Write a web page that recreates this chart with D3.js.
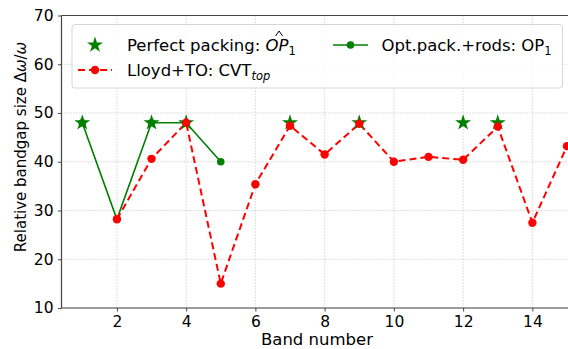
<!DOCTYPE html>
<html>
<head>
<meta charset="utf-8">
<script src="https://cdn.jsdelivr.net/npm/d3@7"></script>
<style>
  body { margin: 0; background: #fff; }
  text { font-family: "DejaVu Sans", sans-serif; fill: #000; }
</style>
</head>
<body>
<div id="chart"></div>
<script>
// data
const bands = [1, 2, 3, 4, 5, 6, 7, 8, 9, 10, 11, 12, 13, 14, 15];
const perfectBands = [1, 3, 4, 7, 9, 12, 13];
const perfectGap = [48, 48, 48, 48, 48, 48, 48];
const rodsBands = [1, 2, 3, 4, 5];
const rodsGap = [48, 28.2, 48, 48, 40];
const cvtBands = [2, 3, 4, 5, 6, 7, 8, 9, 10, 11, 12, 13, 14, 15];
const cvtGap = [28.2, 40.6, 48, 15, 35.4, 47.4, 41.5, 47.8, 40, 41, 40.4, 47.2, 27.5, 43.2];
const xTicks = [2, 4, 6, 8, 10, 12, 14];
const yTicks = [10, 20, 30, 40, 50, 60, 70];

const W = 568, H = 349;
const margin = {top: 15.5, right: 1, bottom: 41, left: 61.5};
const iw = W - margin.left - margin.right;
const ih = H - margin.top - margin.bottom;

const svg = d3.select('#chart').append('svg')
  .attr('width', W)
  .attr('height', H);

const g = svg.append('g')
  .attr('transform', 'translate(' + margin.left + ',' + margin.top + ')');

const x = d3.scaleLinear().domain([0.4, 15]).range([0, iw]);
const y = d3.scaleLinear().domain([10, 70]).range([ih, 0]);

// grid
g.append('g').selectAll('line').data(xTicks).join('line')
  .attr('x1', d => x(d)).attr('x2', d => x(d))
  .attr('y1', 0).attr('y2', ih)
  .attr('stroke', '#b0b0b0').attr('stroke-width', 0.8)
  .attr('stroke-dasharray', '1,2');
g.append('g').selectAll('line').data(yTicks).join('line')
  .attr('x1', 0).attr('x2', iw)
  .attr('y1', d => y(d)).attr('y2', d => y(d))
  .attr('stroke', '#b0b0b0').attr('stroke-width', 0.8)
  .attr('stroke-dasharray', '1,2');

// axes
const xAxis = g.append('g')
  .attr('transform', 'translate(0,' + ih + ')')
  .call(d3.axisBottom(x).tickValues(xTicks).tickSize(3.5).tickPadding(4));
const yAxis = g.append('g')
  .call(d3.axisLeft(y).tickValues(yTicks).tickSize(3.5).tickPadding(4.5));
[xAxis, yAxis].forEach(a => {
  a.select('.domain').remove();
  a.selectAll('line').attr('stroke', '#444').attr('stroke-width', 1);
  a.selectAll('text').attr('font-size', 15.5).attr('font-family', 'DejaVu Sans').attr('fill', '#000');
});
// spines: left, bottom, top
g.append('line').attr('x1', 0).attr('x2', 0).attr('y1', 0).attr('y2', ih)
  .attr('stroke', '#444').attr('stroke-width', 1.2);
g.append('line').attr('x1', 0).attr('x2', iw + margin.right).attr('y1', ih).attr('y2', ih)
  .attr('stroke', '#444').attr('stroke-width', 1.2);
g.append('line').attr('x1', 0).attr('x2', iw + margin.right).attr('y1', 0).attr('y2', 0)
  .attr('stroke', '#444').attr('stroke-width', 1.2);

// labels
svg.append('text')
  .attr('x', 317).attr('y', 345)
  .attr('text-anchor', 'middle').attr('font-size', 16.5)
  .text('Band number');
const ylab = svg.append('text')
  .attr('transform', 'translate(26,147) rotate(-90)')
  .attr('text-anchor', 'middle').attr('font-size', 15);
ylab.append('tspan').text('Relative bandgap size Δ');
ylab.append('tspan').attr('font-style', 'italic').text('ω');
ylab.append('tspan').text('/');
ylab.append('tspan').attr('font-style', 'italic').text('ω');

const plot = g.append('g');
const line = d3.line().x(d => x(d[0])).y(d => y(d[1]));

// green line: optimized packing + rods
const rods = rodsBands.map((b, i) => [b, rodsGap[i]]);
plot.append('path').datum(rods)
  .attr('d', line).attr('fill', 'none')
  .attr('stroke', 'green').attr('stroke-width', 1.6);
plot.append('g').selectAll('circle').data(rods).join('circle')
  .attr('cx', d => x(d[0])).attr('cy', d => y(d[1])).attr('r', 3.8)
  .attr('fill', 'green');

// red dashed: CVT
const cvt = cvtBands.map((b, i) => [b, cvtGap[i]]);
plot.append('path').datum(cvt)
  .attr('d', line).attr('fill', 'none')
  .attr('stroke', 'red').attr('stroke-width', 2)
  .attr('stroke-dasharray', '7,4');

// stars: perfect packing
const star = d3.symbol().type(d3.symbolStar).size(80);
const perfect = perfectBands.map((b, i) => [b, perfectGap[i]]);
plot.append('g').selectAll('path').data(perfect).join('path')
  .attr('d', star)
  .attr('transform', d => 'translate(' + x(d[0]) + ',' + y(d[1]) + ')')
  .attr('fill', 'green');

plot.append('g').selectAll('circle').data(cvt).join('circle')
  .attr('cx', d => x(d[0])).attr('cy', d => y(d[1])).attr('r', 4.2)
  .attr('fill', 'red');

// legend
const lg = svg.append('g');
lg.append('rect')
  .attr('x', 72).attr('y', 24.5).attr('width', 490.5).attr('height', 63.5)
  .attr('rx', 3).attr('fill', 'rgba(255,255,255,0.8)')
  .attr('stroke', '#d6d6d6').attr('stroke-width', 1);
lg.append('path').attr('d', star)
  .attr('transform', 'translate(95,45)').attr('fill', 'green');
const t1 = lg.append('text').attr('x', 127).attr('y', 51).attr('font-size', 16.5);
t1.append('tspan').text('Perfect packing: ');
const op = t1.append('tspan').attr('font-style', 'italic').text('OP');
t1.append('tspan').attr('font-size', 11.5).attr('dy', 3.5).text('1');
// hat accent over OP
const ob = op.node().getBBox();
const hx = ob.x + ob.width / 2 + 2;
lg.append('path').attr('d', `M${hx - 3.5},36 L${hx},31 L${hx + 3.5},36`)
  .attr('fill', 'none').attr('stroke', '#000').attr('stroke-width', 1);

lg.append('line').attr('x1', 78).attr('x2', 112).attr('y1', 70).attr('y2', 70)
  .attr('stroke', 'red').attr('stroke-width', 2).attr('stroke-dasharray', '7,4');
lg.append('circle').attr('cx', 95).attr('cy', 70).attr('r', 4.2).attr('fill', 'red');
const t2 = lg.append('text').attr('x', 127).attr('y', 76).attr('font-size', 16.5);
t2.append('tspan').text('Lloyd+TO: CVT');
t2.append('tspan').attr('font-size', 11.5).attr('font-style', 'italic').attr('dy', 3.5).text('top');

lg.append('line').attr('x1', 333).attr('x2', 368).attr('y1', 45).attr('y2', 45)
  .attr('stroke', 'green').attr('stroke-width', 1.6);
lg.append('circle').attr('cx', 350.5).attr('cy', 45).attr('r', 3.8).attr('fill', 'green');
const t3 = lg.append('text').attr('x', 381.5).attr('y', 51).attr('font-size', 16.5);
t3.append('tspan').text('Opt.pack.+rods: OP');
t3.append('tspan').attr('font-size', 11.5).attr('dy', 3.5).text('1');
</script>
</body>
</html>
